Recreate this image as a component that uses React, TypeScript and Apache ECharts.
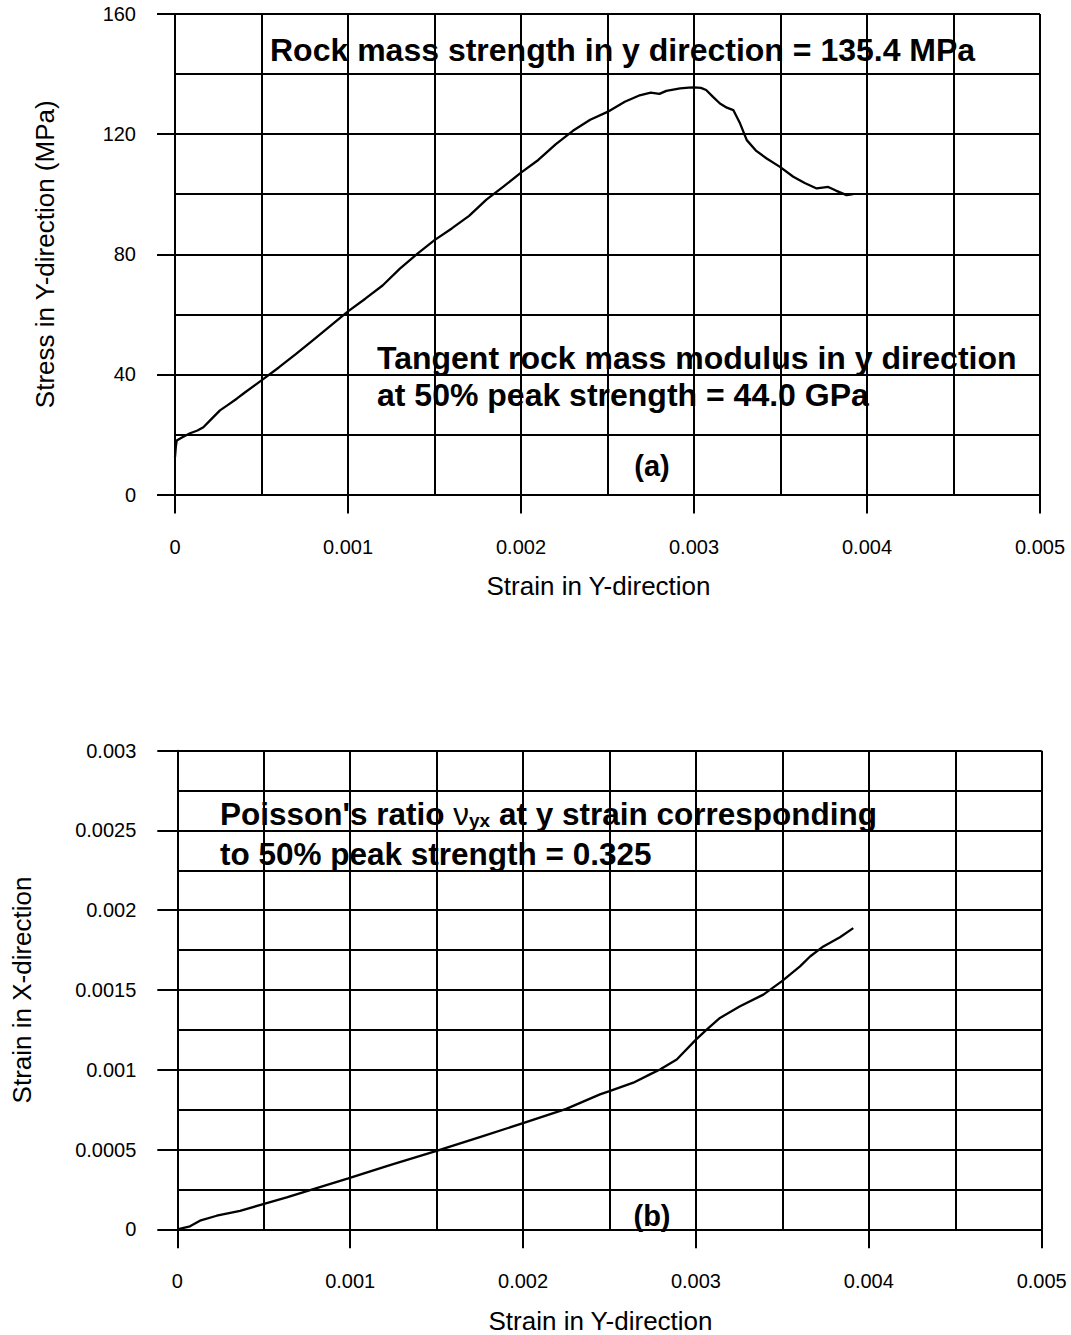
import React, { useEffect, useRef } from "react";
import * as echarts from "echarts";

// (a) Stress–strain in Y direction
const topStrainY = [
  0, 0.000005, 0.00001, 0.00004, 0.000087, 0.00013, 0.000164, 0.0002, 0.00026, 0.0003, 0.000357,
  0.0004, 0.0005, 0.0006, 0.0007, 0.0008, 0.0009, 0.001, 0.0011, 0.0012, 0.0013, 0.0014, 0.0015,
  0.0016, 0.0017, 0.0018, 0.0019, 0.002, 0.0021, 0.0022, 0.0023, 0.0024, 0.0025, 0.0026, 0.00268,
  0.00275, 0.0028, 0.00284, 0.00292, 0.00297, 0.003, 0.00304, 0.00307, 0.00311, 0.00315, 0.00319,
  0.003227, 0.003266, 0.003305, 0.00336, 0.00342, 0.003497, 0.003574, 0.00364, 0.003709, 0.003776,
  0.00382, 0.003882, 0.00392,
];
const topStress = [
  12.4, 16, 18, 19, 20.4, 21.3, 22.4, 24.5, 28, 29.6, 31.9,
  33.8, 38, 42.3, 46.8, 51.5, 56.2, 61, 65.2, 69.6, 75.2, 80.1, 84.7,
  88.6, 92.8, 98.2, 102.6, 107.2, 111.4, 116.6, 121.1, 124.8, 127.4, 130.8, 132.8,
  133.8, 133.4, 134.4, 135.2, 135.5, 135.6, 135.4, 134.7, 132.4, 130.2, 128.8,
  128, 123.6, 118, 114.4, 111.9, 109.1, 105.8, 103.7, 101.9, 102.4,
  101.2, 99.7, 100,
];

// (b) Strain in X vs strain in Y
const botStrainY = [
  0, 0.0000735, 0.000131, 0.000228, 0.000363, 0.000497, 0.000633, 0.000787, 0.000989, 0.00123,
  0.0015, 0.00175, 0.002, 0.00225, 0.002445, 0.0025, 0.002638, 0.002734, 0.002792, 0.002889,
  0.003, 0.003062, 0.003139, 0.003255, 0.00339, 0.003496, 0.003602, 0.00366, 0.003737, 0.003833,
  0.00391,
];
const botStrainX = [
  0, 0.0000187, 0.000054, 0.000085, 0.000116, 0.000158, 0.0002, 0.000252, 0.000319, 0.000402,
  0.000491, 0.000578, 0.000665, 0.000755, 0.000846, 0.000866, 0.000919, 0.000971, 0.001002, 0.001064,
  0.001189, 0.001252, 0.001325, 0.001398, 0.001471, 0.001554, 0.001648, 0.00171, 0.001773, 0.001831,
  0.001888,
];

const xTickLabels = ["0", "0.001", "0.002", "0.003", "0.004", "0.005"];
const topYTickLabels = ["0", "40", "80", "120", "160"];
const botYTickLabels = ["0", "0.0005", "0.001", "0.0015", "0.002", "0.0025", "0.003"];

const FONT = "'Liberation Sans', Arial, Helvetica, sans-serif";

export default function App() {
  const ref = useRef<HTMLDivElement>(null);

  useEffect(() => {
    if (!ref.current) return;
    const chart = echarts.init(ref.current, undefined, { renderer: "svg" });

    const lineStyle = { color: "#000", width: 2 };
    const fmt = (labels: string[]) => (v: number) => {
      const s = String(+v.toFixed(5));
      return labels.includes(s) ? s : "";
    };

    const xAxisBase = (gridIndex: number, gap: number) => ({
      type: "value" as const,
      gridIndex,
      min: 0,
      max: 0.005,
      interval: 0.001,
      name: "Strain in Y-direction",
      nameLocation: "middle" as const,
      nameGap: gap,
      nameTextStyle: {
        fontFamily: FONT,
        fontSize: 26,
        color: "#000",
        verticalAlign: "middle",
        padding: [0, 18, 0, 0],
      },
      axisLine: { show: true, lineStyle },
      axisTick: { show: true, length: 19, lineStyle },
      axisLabel: { formatter: fmt(xTickLabels), fontFamily: FONT, fontSize: 20, color: "#000", margin: 42 },
      splitLine: { show: true, lineStyle },
      minorTick: { show: false, splitNumber: 2 },
      minorSplitLine: { show: true, lineStyle },
    });

    chart.setOption({
      animation: false,
      backgroundColor: "#fff",
      grid: [
        { left: 175, top: 14, width: 865, height: 480.5 },
        { left: 177.3, top: 750.7, width: 864.4, height: 479.6 },
      ],
      xAxis: [xAxisBase(0, 91.5), xAxisBase(1, 91.7)],
      yAxis: [
        {
          type: "value",
          gridIndex: 0,
          min: 0,
          max: 160,
          interval: 40,
          name: "Stress in Y-direction (MPa)",
          nameLocation: "middle",
          nameGap: 130,
          nameTextStyle: { fontFamily: FONT, fontSize: 26, color: "#000", verticalAlign: "middle" },
          axisLine: { show: true, lineStyle },
          axisTick: { show: true, length: 18, lineStyle },
          axisLabel: { formatter: fmt(topYTickLabels), fontFamily: FONT, fontSize: 20, color: "#000", margin: 39 },
          splitLine: { show: true, lineStyle },
          minorTick: { show: false, splitNumber: 2 },
          minorSplitLine: { show: true, lineStyle },
        },
        {
          type: "value",
          gridIndex: 1,
          min: 0,
          max: 0.003,
          interval: 0.0005,
          name: "Strain in X-direction",
          nameLocation: "middle",
          nameGap: 155,
          nameTextStyle: { fontFamily: FONT, fontSize: 26, color: "#000", verticalAlign: "middle" },
          axisLine: { show: true, lineStyle },
          axisTick: { show: true, length: 20, lineStyle },
          axisLabel: { formatter: fmt(botYTickLabels), fontFamily: FONT, fontSize: 20, color: "#000", margin: 41 },
          splitLine: { show: true, lineStyle },
          minorTick: { show: false, splitNumber: 2 },
          minorSplitLine: { show: true, lineStyle },
        },
      ],
      series: [
        {
          type: "line",
          xAxisIndex: 0,
          yAxisIndex: 0,
          data: topStrainY.map((x, i) => [x, topStress[i]]),
          showSymbol: false,
          symbol: "none",
          lineStyle: { color: "#000", width: 2.3 },
          z: 5,
        },
        {
          type: "line",
          xAxisIndex: 1,
          yAxisIndex: 1,
          data: botStrainY.map((x, i) => [x, botStrainX[i]]),
          showSymbol: false,
          symbol: "none",
          lineStyle: { color: "#000", width: 2.3 },
          z: 5,
        },
      ],
      graphic: [
        {
          type: "text",
          x: 270,
          y: 50,
          z: 10,
          style: {
            text: "Rock mass strength in y direction = 135.4 MPa",
            fontFamily: FONT,
            fontSize: 32,
            fontWeight: "bold",
            fill: "#000",
            verticalAlign: "middle",
          },
        },
        {
          type: "text",
          x: 377,
          y: 358,
          z: 10,
          style: {
            text: "Tangent rock mass modulus in y direction",
            fontFamily: FONT,
            fontSize: 32,
            fontWeight: "bold",
            fill: "#000",
            verticalAlign: "middle",
          },
        },
        {
          type: "text",
          x: 377,
          y: 395,
          z: 10,
          style: {
            text: "at 50% peak strength = 44.0 GPa",
            fontFamily: FONT,
            fontSize: 32,
            fontWeight: "bold",
            fill: "#000",
            verticalAlign: "middle",
          },
        },
        {
          type: "text",
          x: 652,
          y: 466,
          z: 10,
          style: {
            text: "(a)",
            fontFamily: FONT,
            fontSize: 29,
            fontWeight: "bold",
            fill: "#000",
            align: "center",
            verticalAlign: "middle",
          },
        },
        {
          type: "text",
          x: 220,
          y: 814,
          z: 10,
          style: {
            text: "{b|Poisson's ratio }{n|ν}{s|yx}{b| at y strain corresponding}",
            fontFamily: FONT,
            fontSize: 31.5,
            fontWeight: "bold",
            fill: "#000",
            verticalAlign: "middle",
            rich: {
              b: { fontFamily: FONT, fontSize: 31.5, fontWeight: "bold", fill: "#000" },
              n: { fontFamily: FONT, fontSize: 31.5, fontWeight: "normal", fill: "#000" },
              s: {
                fontFamily: FONT,
                fontSize: 19,
                fontWeight: "bold",
                fill: "#000",
                verticalAlign: "bottom",
                lineHeight: 12,
              },
            },
          },
        },
        {
          type: "text",
          x: 220,
          y: 854,
          z: 10,
          style: {
            text: "to 50% peak strength = 0.325",
            fontFamily: FONT,
            fontSize: 31.5,
            fontWeight: "bold",
            fill: "#000",
            verticalAlign: "middle",
          },
        },
        {
          type: "text",
          x: 652,
          y: 1216,
          z: 10,
          style: {
            text: "(b)",
            fontFamily: FONT,
            fontSize: 29,
            fontWeight: "bold",
            fill: "#000",
            align: "center",
            verticalAlign: "middle",
          },
        },
      ],
    });

    return () => chart.dispose();
  }, []);

  return (
    <div
      ref={ref}
      style={{ position: "absolute", left: 0, top: 0, width: 1071, height: 1335, background: "#fff" }}
    />
  );
}
